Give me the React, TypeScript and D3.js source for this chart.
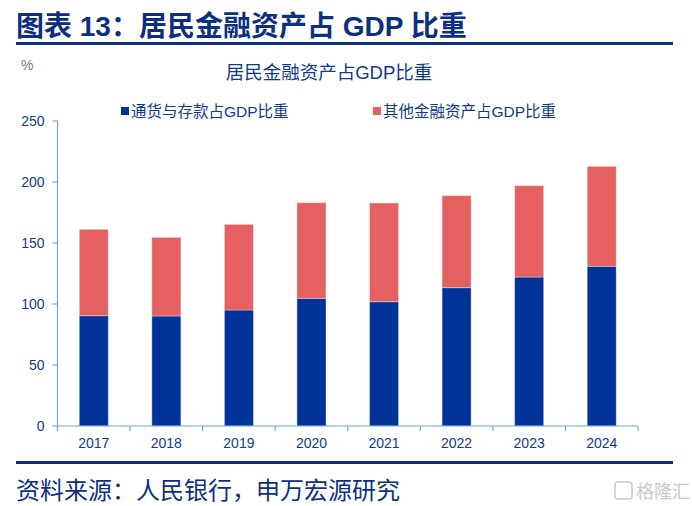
import React from 'react';
import * as d3 from 'd3';

const years = ['2017', '2018', '2019', '2020', '2021', '2022', '2023', '2024'];
const depositShare = [90.4, 90.2, 95.1, 104.6, 101.9, 113.4, 122.1, 130.9];
const otherShare = [70.8, 64.4, 70.2, 78.4, 80.9, 75.4, 74.9, 81.9];
const yTicks = [0, 50, 100, 150, 200, 250];
const seriesNames = ['通货与存款占GDP比重', '其他金融资产占GDP比重'];

const BLUE = '#003399';
const RED = '#e56060';
const TEXT = '#0f3a8c';
const AXIS = '#6fa8dc';
const FONT = 'Arial, "Liberation Sans", "Noto Sans CJK SC", sans-serif';

export default function App() {
  const W = 692;
  const H = 506;
  const left = 57.5;
  const right = 638;
  const top = 121;
  const bottom = 426;

  const x = d3.scaleBand<string>().domain(years).range([left, right]).paddingInner(0.6).paddingOuter(0.3);
  const y = d3.scaleLinear().domain([0, 250]).range([bottom, top]);
  const step = x.step();
  const bounds = d3.range(years.length + 1).map((i) => left + i * step);

  const rows = years.map((yr, i) => ({ year: yr, deposit: depositShare[i], other: otherShare[i] }));
  const stack = d3.stack<any>().keys(['deposit', 'other'])(rows);
  const colors = [BLUE, RED];

  return (
    <svg width={W} height={H} style={{ position: 'absolute', left: 0, top: 0, background: '#fff' }} fontFamily={FONT}>
      <text x={16} y={36} fontSize={28} fontWeight="bold" fill="#0d2f80">图表 13：居民金融资产占 GDP 比重</text>
      <rect x={16} y={42} width={657} height={3} fill="#0d2f80" />

      <text x={21} y={70} fontSize={14} fill="#777">%</text>
      <text x={329} y={79} fontSize={18.5} fill={TEXT} textAnchor="middle">居民金融资产占GDP比重</text>

      <rect x={121} y={107} width={8} height={8} fill={BLUE} />
      <text x={131} y={117} fontSize={15.5} fill={TEXT}>{seriesNames[0]}</text>
      <rect x={373} y={107} width={8} height={8} fill={RED} />
      <text x={383} y={117} fontSize={15.5} fill={TEXT}>{seriesNames[1]}</text>

      {stack.map((layer, li) =>
        layer.map((d: any, i: number) => (
          <rect
            key={`${li}-${i}`}
            x={x(years[i])}
            y={y(d[1])}
            width={x.bandwidth()}
            height={y(d[0]) - y(d[1])}
            fill={colors[li]}
            stroke="rgba(255,255,255,0.35)"
            strokeWidth={1}
          />
        ))
      )}

      <line x1={left} x2={left} y1={top} y2={bottom} stroke={AXIS} strokeWidth={1.2} />
      {yTicks.map((t) => (
        <g key={t}>
          <line x1={left - 5} x2={left} y1={y(t)} y2={y(t)} stroke={AXIS} strokeWidth={1.2} />
          <text x={left - 13} y={y(t) + 5} fontSize={14} fill={TEXT} textAnchor="end">{t}</text>
        </g>
      ))}

      <line x1={left} x2={right} y1={bottom} y2={bottom} stroke={AXIS} strokeWidth={1.2} />
      {bounds.map((b, i) => (
        <line key={i} x1={b} x2={b} y1={bottom} y2={bottom + 5} stroke={AXIS} strokeWidth={1.2} />
      ))}
      {years.map((yr) => (
        <text key={yr} x={(x(yr) as number) + x.bandwidth() / 2} y={448} fontSize={14} fill={TEXT} textAnchor="middle">{yr}</text>
      ))}

      <rect x={16} y={461} width={657} height={3} fill="#0d2f80" />
      <text x={16} y={499} fontSize={24} fill="#0d2f80">资料来源：人民银行，申万宏源研究</text>

      <text x={690} y={498} fontSize={18} fill="#c8c8c8" textAnchor="end">格隆汇</text>
      <rect x={615} y={482} width={17} height={17} rx={3} fill="none" stroke="#c8c8c8" strokeWidth={1.5} />
    </svg>
  );
}
